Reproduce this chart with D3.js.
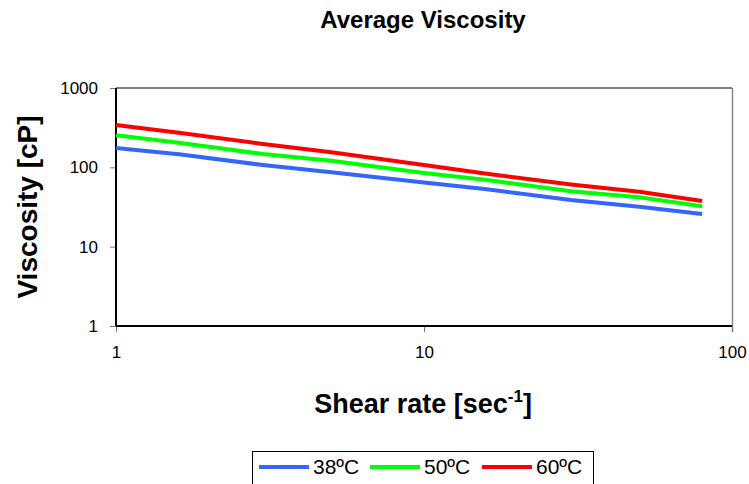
<!DOCTYPE html>
<html><head><meta charset="utf-8">
<script src="https://cdn.jsdelivr.net/npm/d3@7"></script>
<style>body{margin:0;background:#fff;} svg{display:block;font-family:"Liberation Sans",Arial,sans-serif;}</style>
</head><body><svg id="c" width="749" height="484"></svg>
<script>
const shearRates = [1, 1.6, 3, 5, 10, 16, 30, 50, 80];
const visc38 = [175, 146, 107, 86.6, 64.4, 52.9, 38.7, 31.9, 25.8];
const visc50 = [253, 204, 147, 121, 84.8, 69.2, 49.9, 41.9, 32.3];
const visc60 = [342, 273, 197, 155, 107, 83, 60.8, 49.3, 37.6];
const seriesNames = ["38ºC", "50ºC", "60ºC"];
const seriesColors = ["#3366FF", "#00FF00", "#FF0000"];
const xTicks = [1, 10, 100];
const yTicks = [1, 10, 100, 1000];

const svg = d3.select("#c");
const L = 116, R = 732, T = 88, B = 326;
const x = d3.scaleLog().domain([1, 100]).range([L, R]);
const y = d3.scaleLog().domain([1, 1000]).range([B, T]);

// frame
svg.append("line").attr("x1", L).attr("x2", R).attr("y1", T).attr("y2", T).attr("stroke", "#000").attr("stroke-width", 1);
svg.append("line").attr("x1", R + 0.5).attr("x2", R + 0.5).attr("y1", T).attr("y2", B + 6).attr("stroke", "#888").attr("stroke-width", 1.5);

// axes
const xAxis = d3.axisBottom(x).tickValues(xTicks).tickFormat(d3.format("d")).tickSize(6).tickPadding(14);
const yAxis = d3.axisLeft(y).tickValues(yTicks).tickFormat(d3.format("d")).tickSize(6).tickPadding(12);
const gx = svg.append("g").attr("transform", `translate(0,${B})`).call(xAxis);
const gy = svg.append("g").attr("transform", `translate(${L},0)`).call(yAxis);
[gx, gy].forEach(g => {
  g.select(".domain").remove();
  g.selectAll(".tick line").attr("stroke", "#777").attr("stroke-width", 1);
  g.selectAll(".tick text").attr("font-size", 17).attr("fill", "#000").attr("font-family", "Liberation Sans, Arial, sans-serif");
});
svg.append("line").attr("x1", L).attr("x2", R).attr("y1", B).attr("y2", B).attr("stroke", "#000").attr("stroke-width", 2);
svg.append("line").attr("x1", L).attr("x2", L).attr("y1", T).attr("y2", B).attr("stroke", "#000").attr("stroke-width", 2);

// lines
const data = [visc38, visc50, visc60];
const line = d3.line().x((d, i) => x(shearRates[i])).y(d => y(d));
data.forEach((vals, k) => {
  svg.append("path").datum(vals).attr("d", line).attr("fill", "none")
    .attr("stroke", seriesColors[k]).attr("stroke-width", 4).attr("stroke-linejoin", "round");
});

// titles
svg.append("text").attr("x", 423).attr("y", 28).attr("text-anchor", "middle")
  .attr("font-size", 24).attr("font-weight", "bold").text("Average Viscosity");
const xt = svg.append("text").attr("x", 423).attr("y", 413).attr("text-anchor", "middle")
  .attr("font-size", 27).attr("font-weight", "bold");
xt.append("tspan").text("Shear rate [sec");
xt.append("tspan").attr("dy", -11).attr("font-size", 17).text("-1");
xt.append("tspan").attr("dy", 11).text("]");
svg.append("text").attr("transform", "translate(37,207) rotate(-90)").attr("text-anchor", "middle")
  .attr("font-size", 28).attr("font-weight", "bold").text("Viscosity [cP]");

// legend
const lg = svg.append("g");
lg.append("rect").attr("x", 252.5).attr("y", 451.5).attr("width", 341).attr("height", 40)
  .attr("fill", "#fff").attr("stroke", "#000").attr("stroke-width", 1);
const lx = [259, 370, 482];
seriesNames.forEach((n, k) => {
  lg.append("line").attr("x1", lx[k]).attr("x2", lx[k] + 50).attr("y1", 467).attr("y2", 467)
    .attr("stroke", seriesColors[k]).attr("stroke-width", 4);
  lg.append("text").attr("x", lx[k] + 54).attr("y", 474).attr("font-size", 21).text(n);
});
</script></body></html>
